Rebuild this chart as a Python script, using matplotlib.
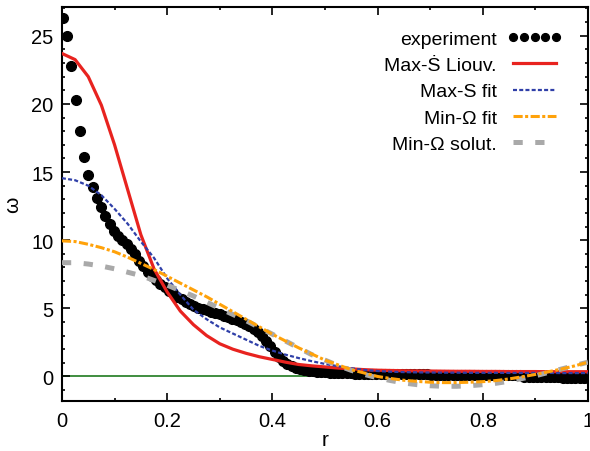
import numpy as np
import matplotlib
matplotlib.use("Agg")
import matplotlib.pyplot as plt
from matplotlib.ticker import MultipleLocator, FixedLocator, FixedFormatter

plt.rcParams["font.family"] = ["Liberation Sans", "DejaVu Sans"]

# experiment, evenly spaced in r
r_exp = np.linspace(0.002, 1.0, 125)
w_exp = [26.3, 25.0, 22.8, 20.3, 18.0, 16.1, 14.8, 13.9, 13.1, 12.4,
         11.8, 11.2, 10.7, 10.3, 10.0, 9.7, 9.35, 8.95, 8.5, 8.1,
         7.7, 7.4, 7.1, 6.8, 6.55, 6.3, 6.1, 5.85, 5.65, 5.5,
         5.35, 5.2, 5.05, 4.95, 4.85, 4.75, 4.65, 4.55, 4.45, 4.35,
         4.25, 4.15, 4.0, 3.85, 3.7, 3.5, 3.25, 2.95, 2.6, 2.2,
         1.8, 1.45, 1.1, 0.9, 0.75, 0.65, 0.55, 0.47, 0.42, 0.38,
         0.35, 0.32, 0.3, 0.28, 0.26, 0.25, 0.24, 0.23, 0.22, 0.21,
         0.2, 0.2, 0.19, 0.19, 0.18, 0.18, 0.18, 0.17, 0.17, 0.17,
         0.16, 0.16, 0.16, 0.15, 0.15, 0.15, 0.15, 0.14, 0.14, 0.14,
         0.14, 0.14, 0.13, 0.13, 0.13, 0.13, 0.13, 0.12, 0.12, 0.12,
         0.12, 0.12, 0.12, 0.11, 0.11, 0.11, 0.11, 0.1, 0.1, -0.05,
         -0.05, -0.06, -0.06, -0.06, -0.07, -0.07, -0.07, -0.07, -0.08, -0.08,
         -0.08, -0.08, -0.08, -0.08, -0.08]

# model curves on a 0.025 grid
r_fit = np.linspace(0, 1, 41)
w_liouv = [23.7, 23.25, 22.0, 19.9, 17.0, 13.7, 10.4, 7.9, 6.2, 4.8,
           3.8, 3.0, 2.4, 2.0, 1.7, 1.45, 1.25, 1.05, 0.88, 0.78,
           0.7, 0.62, 0.56, 0.5, 0.46, 0.44, 0.42, 0.41, 0.4, 0.39,
           0.38, 0.38, 0.37, 0.37, 0.36, 0.36, 0.36, 0.35, 0.35, 0.35, 0.35]
w_maxs = [14.55, 14.4, 14.0, 13.3, 12.3, 11.2, 9.9, 8.7, 7.2, 6.0,
          4.9, 4.2, 3.6, 3.15, 2.7, 2.25, 1.9, 1.6, 1.35, 1.12,
          0.92, 0.75, 0.6, 0.48, 0.4, 0.35, 0.32, 0.3, 0.29, 0.28,
          0.28, 0.27, 0.27, 0.27, 0.26, 0.26, 0.26, 0.26, 0.25, 0.25, 0.25]
w_minf = [9.95, 9.9, 9.7, 9.45, 9.15, 8.75, 8.3, 7.85, 7.35, 6.85,
          6.35, 5.85, 5.3, 4.75, 4.2, 3.65, 3.1, 2.6, 2.1, 1.65,
          1.2, 0.85, 0.5, 0.25, 0.0, -0.15, -0.28, -0.36, -0.42, -0.45,
          -0.45, -0.42, -0.38, -0.3, -0.18, -0.02, 0.15, 0.35, 0.55, 0.78, 1.05]
w_mins = [8.35, 8.35, 8.25, 8.1, 7.9, 7.65, 7.4, 7.05, 6.7, 6.3,
          5.9, 5.45, 5.0, 4.55, 4.1, 3.6, 3.1, 2.6, 2.1, 1.6,
          1.2, 0.8, 0.45, 0.15, -0.1, -0.3, -0.48, -0.6, -0.68, -0.72,
          -0.72, -0.68, -0.6, -0.5, -0.35, -0.15, 0.05, 0.3, 0.55, 0.8, 1.05]

x_ticks = [0, 0.2, 0.4, 0.6, 0.8, 1.0]
x_labels = ["0", "0.2", "0.4", "0.6", "0.8", "1"]
y_ticks = [0, 5, 10, 15, 20, 25]

fig = plt.figure(figsize=(5.9, 4.52), dpi=100)
ax = fig.add_axes([0.105, 0.1106, 0.8916, 0.8714])

ax.axhline(0, color="#1f7a1f", lw=1.2, zorder=1)
ax.plot(r_exp, w_exp, "o", color="black", ms=7, label="experiment", zorder=2)
ax.plot(r_fit, w_liouv, "-", color="#e8231f", lw=2.3, label="Max-Ṡ Liouv.", zorder=3)
ax.plot(r_fit, w_maxs, color="#2f3fa8", lw=1.6, dashes=(1.8, 1.0), label="Max-S fit", zorder=4)
ax.plot(r_fit, w_minf, color="#ffa20a", lw=2.2, dashes=(3, 0.8, 1, 0.8), label="Min-Ω fit", zorder=5)
ax.plot(r_fit, w_mins, color="#a9a9a9", lw=3.6, dashes=(1.85, 2.5), label="Min-Ω solut.", zorder=4)

ax.set_xlim(0, 1)
ax.set_ylim(-1.8, 27.1)
ax.xaxis.set_major_locator(FixedLocator(x_ticks))
ax.xaxis.set_major_formatter(FixedFormatter(x_labels))
ax.xaxis.set_minor_locator(MultipleLocator(0.1))
ax.yaxis.set_major_locator(FixedLocator(y_ticks))
ax.yaxis.set_minor_locator(MultipleLocator(1))
ax.tick_params(which="both", direction="in", top=True, right=True, width=1.2,
               labelsize=14.5, colors="black")
ax.tick_params(which="major", length=5.5)
ax.tick_params(which="minor", length=2.5)
ax.tick_params(axis="x", pad=7)
ax.tick_params(axis="y", pad=6)
for s in ax.spines.values():
    s.set_linewidth(1.5)

ax.set_xlabel("r", fontsize=15, labelpad=0)
ax.set_ylabel("ω", fontsize=15, labelpad=7)

leg = ax.legend(loc="upper right", bbox_to_anchor=(0.9506, 0.9416), frameon=False,
                markerfirst=False, numpoints=5, fontsize=14, handlelength=2.8,
                handletextpad=0.55, labelspacing=0.45, borderpad=0, borderaxespad=0,
                markerscale=0.8)

fig.savefig("out.png", dpi=100)
